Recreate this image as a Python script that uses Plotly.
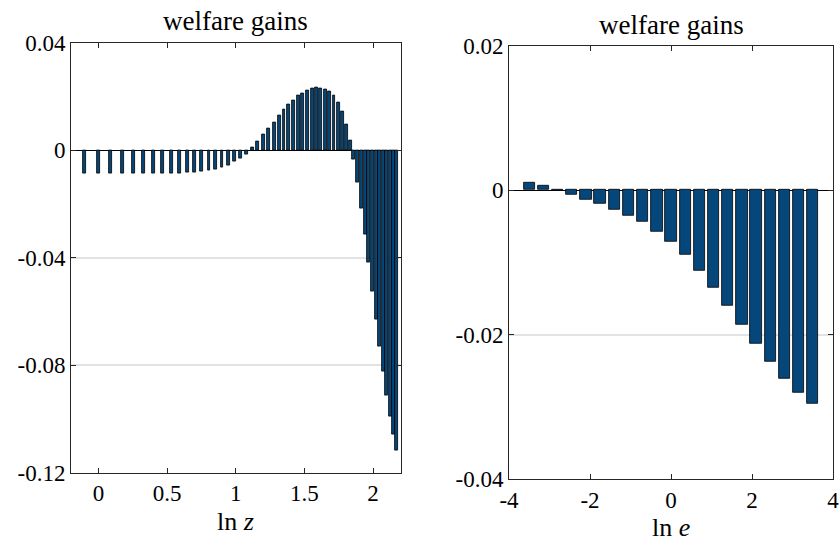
import plotly.graph_objects as go

# ---- welfare gains by productivity (ln z) ----
lnz = [-0.104, 0.000, 0.090, 0.177, 0.255, 0.327, 0.400, 0.465, 0.529, 0.589,
       0.647, 0.698, 0.752, 0.805, 0.851, 0.900, 0.945, 0.994, 1.036, 1.079,
       1.120, 1.161, 1.200, 1.241, 1.280, 1.316, 1.351, 1.387, 1.421, 1.455,
       1.489, 1.523, 1.556, 1.588, 1.620, 1.654, 1.685, 1.716, 1.748, 1.777,
       1.807, 1.836, 1.860, 1.888, 1.915, 1.942, 1.969, 1.995, 2.022, 2.048,
       2.074, 2.099, 2.124, 2.148, 2.172]
gain_z = [-0.0089, -0.0089, -0.0089, -0.0089, -0.0089, -0.0089, -0.0089, -0.0087,
          -0.0087, -0.0086, -0.0084, -0.0083, -0.0081, -0.0077, -0.0072, -0.0065,
          -0.0056, -0.0041, -0.0030, -0.0015, 0.0010, 0.0032, 0.0056, 0.0081,
          0.0104, 0.0128, 0.0150, 0.0169, 0.0185, 0.0201, 0.0212, 0.0222, 0.0228,
          0.0231, 0.0230, 0.0226, 0.0217, 0.0201, 0.0177, 0.0143, 0.0096, 0.0035,
          -0.0037, -0.0122, -0.0217, -0.0316, -0.0419, -0.0527, -0.0632, -0.0732,
          -0.0825, -0.0912, -0.0992, -0.1060, -0.1119]

# ---- welfare gains by ln e ----
lne = [-3.50, -3.15, -2.80, -2.45, -2.10, -1.75, -1.40, -1.05, -0.70, -0.35, 0.00,
       0.35, 0.70, 1.05, 1.40, 1.75, 2.10, 2.45, 2.80, 3.15, 3.50]
gain_e = [0.0010, 0.00055, -0.0001, -0.0007, -0.0013, -0.0019, -0.0027, -0.0035,
          -0.0044, -0.0057, -0.0072, -0.0090, -0.0111, -0.0135, -0.0160, -0.0186,
          -0.0212, -0.0237, -0.0261, -0.0281, -0.0296]

# axis ticks
z_ticks = [0, 0.5, 1, 1.5, 2]
z_ticktext = ["0", "0.5", "1", "1.5", "2"]
gz_ticks = [0.04, 0, -0.04, -0.08, -0.12]
gz_ticktext = ["0.04", "0", "-0.04", "-0.08", "-0.12"]
e_ticks = [-4, -2, 0, 2, 4]
e_ticktext = ["-4", "-2", "0", "2", "4"]
ge_ticks = [0.02, 0, -0.02, -0.04]
ge_ticktext = ["0.02", "0", "-0.02", "-0.04"]

W, H = 840, 544
FONT = "Liberation Serif, DejaVu Serif, serif"
BAR = "#05477A"
AX = "#262626"

fig = go.Figure()
fig.add_trace(go.Bar(x=lnz, y=gain_z, width=0.021, xaxis="x", yaxis="y",
                     marker=dict(color=BAR, line=dict(color="black", width=0.8))))
fig.add_trace(go.Bar(x=lne, y=gain_e, width=0.28, xaxis="x2", yaxis="y2",
                     marker=dict(color=BAR, line=dict(color="black", width=0.8))))


def px_x(a, b):
    return [a / W, b / W]


def px_y(top, bottom):
    return [1 - bottom / H, 1 - top / H]


common_x = dict(showline=True, linecolor=AX, linewidth=1, mirror="ticks",
                ticks="inside", ticklen=5, tickcolor=AX, showgrid=False,
                zeroline=False, automargin=False,
                tickfont=dict(family=FONT, size=23, color="black"))
common_y = dict(showline=True, linecolor=AX, linewidth=1, mirror="ticks",
                ticks="inside", ticklen=5, tickcolor=AX, showgrid=True,
                gridcolor="#e3e3e3", gridwidth=1.5, zeroline=True,
                zerolinecolor="black", zerolinewidth=1, automargin=False,
                tickfont=dict(family=FONT, size=23, color="black"))

fig.update_layout(
    template="none",
    width=W, height=H,
    margin=dict(l=0, r=0, t=0, b=0, pad=0, autoexpand=False),
    paper_bgcolor="white", plot_bgcolor="white",
    showlegend=False, bargap=0,
    font=dict(family=FONT, color="black"),
    xaxis=dict(common_x, domain=px_x(71, 400.5), range=[-0.2, 2.2],
               tickvals=z_ticks, ticktext=z_ticktext, anchor="y"),
    yaxis=dict(common_y, domain=px_y(42.5, 472.5), range=[-0.12, 0.04],
               tickvals=gz_ticks, ticktext=gz_ticktext, anchor="x"),
    xaxis2=dict(common_x, domain=px_x(509, 833), range=[-4, 4],
                tickvals=e_ticks, ticktext=e_ticktext, anchor="y2"),
    yaxis2=dict(common_y, domain=px_y(45.7, 479), range=[-0.04, 0.02],
                tickvals=ge_ticks, ticktext=ge_ticktext, anchor="x2"),
)

for cx, cy, txt, size in [((71 + 400.5) / 2, 21, "welfare gains", 27),
                          ((509 + 833) / 2, 25, "welfare gains", 27),
                          ((71 + 400.5) / 2, 521, "ln <i>z</i>", 26),
                          ((509 + 833) / 2, 527, "ln <i>e</i>", 26)]:
    fig.add_annotation(x=cx / W, y=1 - cy / H, xref="paper", yref="paper",
                       text=txt, showarrow=False,
                       font=dict(family=FONT, size=size, color="black"),
                       xanchor="center", yanchor="middle")

fig.write_html("out.html")
